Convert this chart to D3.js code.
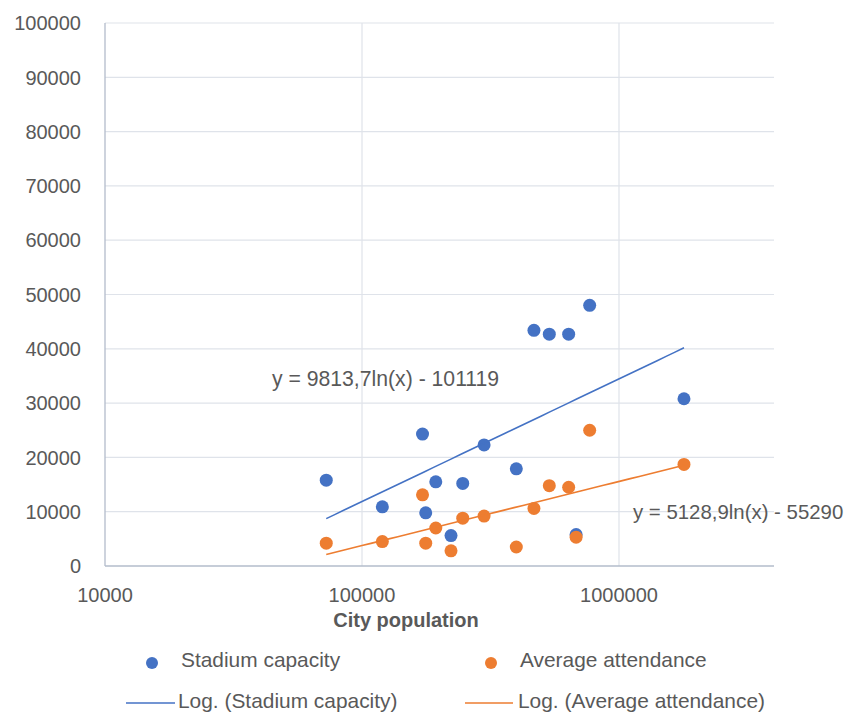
<!DOCTYPE html>
<html>
<head>
<meta charset="utf-8">
<script src="https://cdn.jsdelivr.net/npm/d3@7"></script>
<style>
  html, body { margin: 0; padding: 0; background: #fff; }
  svg { display: block; font-family: "Liberation Sans", Arial, sans-serif; }
</style>
</head>
<body>
<svg id="chart" width="851" height="715"></svg>
<script>
// ---- Data ----
const population = [72600, 120000, 172000, 177000, 193700, 222000, 246600, 298600,
                    398500, 466700, 535600, 637000, 681000, 769000, 1790000];
const stadiumCapacity = [15800, 10900, 24300, 9800, 15500, 5600, 15200, 22300,
                         17900, 43400, 42700, 42700, 5800, 48000, 30800];
const averageAttendance = [4200, 4500, 13100, 4200, 7000, 2800, 8800, 9200,
                           3500, 10600, 14800, 14500, 5300, 25000, 18700];
// logarithmic trendline coefficients shown on the chart: y = a*ln(x) + b
const stadiumTrend = [9813.7, -101119];
const attendanceTrend = [5128.9, -55290];
const stadiumTrendLabel = "y = 9813,7ln(x) - 101119";
const attendanceTrendLabel = "y = 5128,9ln(x) - 55290";
const xTicks = [10000, 100000, 1000000];
const yTicks = [0, 10000, 20000, 30000, 40000, 50000, 60000, 70000, 80000, 90000, 100000];
const seriesNames = ["Stadium capacity", "Average attendance"];
const trendNames = ["Log. (Stadium capacity)", "Log. (Average attendance)"];

(function () {
// ---- Layout ----
const svg = d3.select("#chart");
const pLeft = 105, pRight = 774, pTop = 23, pBottom = 566;
const blue = "#4472C4", orange = "#ED7D31", textCol = "#595959";

const x = d3.scaleLog().domain([10000, 4010000]).range([pLeft, pRight]);
const y = d3.scaleLinear().domain([0, 100000]).range([pBottom, pTop]);

// gridlines
svg.append("g").selectAll("line").data(yTicks.filter(d => d > 0)).join("line")
  .attr("x1", pLeft).attr("x2", pRight)
  .attr("y1", d => y(d)).attr("y2", d => y(d))
  .attr("stroke", "#dfe3ea").attr("stroke-width", 1.2);
svg.append("g").selectAll("line").data(xTicks.filter(d => d > 10000)).join("line")
  .attr("x1", d => x(d)).attr("x2", d => x(d))
  .attr("y1", pTop).attr("y2", pBottom)
  .attr("stroke", "#dfe3ea").attr("stroke-width", 1.2);

// axis lines
svg.append("line").attr("x1", pLeft).attr("x2", pLeft).attr("y1", pTop).attr("y2", pBottom)
  .attr("stroke", "#b3bccb").attr("stroke-width", 1.3);
svg.append("line").attr("x1", pLeft).attr("x2", pRight).attr("y1", pBottom).attr("y2", pBottom)
  .attr("stroke", "#b3bccb").attr("stroke-width", 1.3);

// y tick labels
svg.append("g").selectAll("text").data(yTicks).join("text")
  .attr("x", 81).attr("y", d => y(d)).attr("dy", "0.36em")
  .attr("text-anchor", "end").attr("font-size", 20).attr("fill", textCol)
  .text(d => d);

// x tick labels
svg.append("g").selectAll("text").data(xTicks).join("text")
  .attr("x", d => x(d)).attr("y", 602)
  .attr("text-anchor", "middle").attr("font-size", 20).attr("fill", textCol)
  .text(d => d);

// x axis title
svg.append("text").attr("x", 406).attr("y", 627).attr("text-anchor", "middle")
  .attr("font-size", 20).attr("font-weight", "bold").attr("fill", textCol)
  .text("City population");

// scatter points
const pts = population.map((p, i) => ({ p, s: stadiumCapacity[i], a: averageAttendance[i] }));
svg.append("g").selectAll("circle").data(pts).join("circle")
  .attr("cx", d => x(d.p)).attr("cy", d => y(d.s)).attr("r", 6.5).attr("fill", blue);
svg.append("g").selectAll("circle").data(pts).join("circle")
  .attr("cx", d => x(d.p)).attr("cy", d => y(d.a)).attr("r", 6.5).attr("fill", orange);

// trendlines
const xmin = d3.min(population), xmax = d3.max(population);
const samples = d3.range(0, 41).map(i => Math.exp(Math.log(xmin) + (Math.log(xmax) - Math.log(xmin)) * i / 40));
const line = d3.line().x(d => x(d[0])).y(d => y(d[1]));
[[stadiumTrend, blue], [attendanceTrend, orange]].forEach(([c, col]) => {
  svg.append("path")
    .attr("d", line(samples.map(v => [v, c[0] * Math.log(v) + c[1]])))
    .attr("fill", "none").attr("stroke", col).attr("stroke-width", 1.6);
});

// trendline equations
svg.append("text").attr("x", 272).attr("y", 386).attr("font-size", 21.2).attr("fill", textCol)
  .text(stadiumTrendLabel);
svg.append("text").attr("x", 633).attr("y", 519).attr("font-size", 20.4).attr("fill", textCol)
  .text(attendanceTrendLabel);

// legend
const lg = svg.append("g").attr("font-size", 20.9).attr("fill", textCol);
lg.append("circle").attr("cx", 152).attr("cy", 663).attr("r", 6).attr("fill", blue);
lg.append("text").attr("x", 181).attr("y", 667).text(seriesNames[0]);
lg.append("circle").attr("cx", 491).attr("cy", 663).attr("r", 6).attr("fill", orange);
lg.append("text").attr("x", 520).attr("y", 667).text(seriesNames[1]);
lg.append("line").attr("x1", 126).attr("x2", 175).attr("y1", 703).attr("y2", 703)
  .attr("stroke", blue).attr("stroke-width", 1.6);
lg.append("text").attr("x", 178).attr("y", 708).text(trendNames[0]);
lg.append("line").attr("x1", 465).attr("x2", 513).attr("y1", 703).attr("y2", 703)
  .attr("stroke", orange).attr("stroke-width", 1.6);
lg.append("text").attr("x", 518).attr("y", 708).text(trendNames[1]);
})();
</script>
</body>
</html>
